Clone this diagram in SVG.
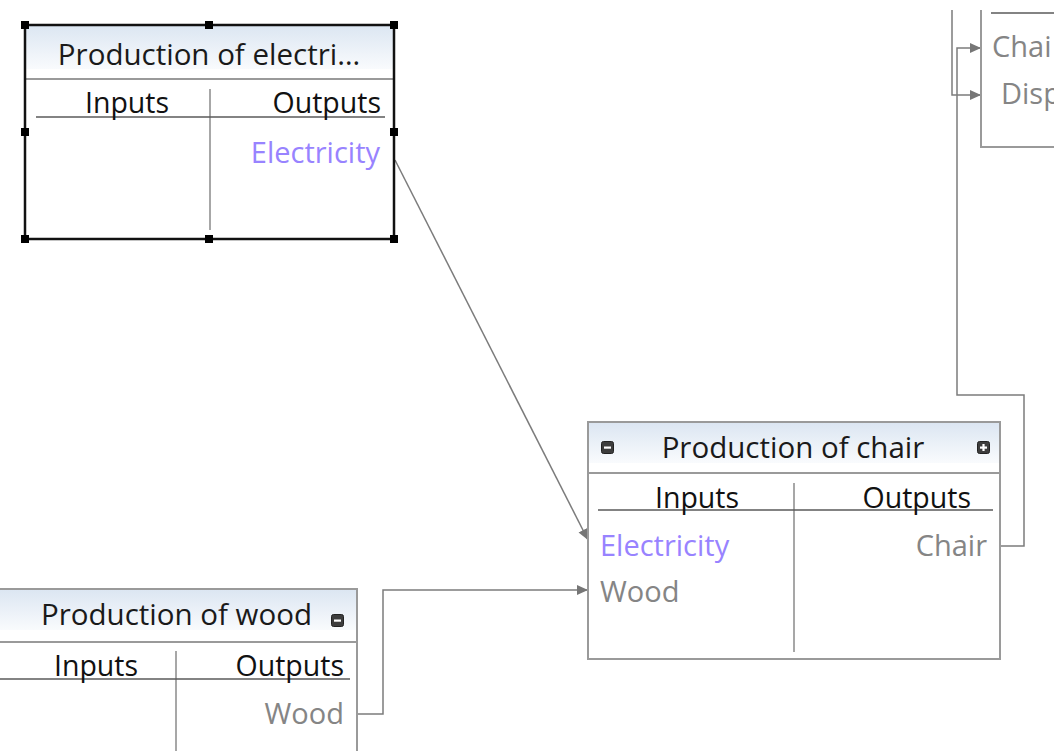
<svg xmlns="http://www.w3.org/2000/svg" width="1054" height="751" viewBox="0 0 1054 751">
<defs>
<linearGradient id="hdr" x1="0" y1="0" x2="0" y2="1">
<stop offset="0" stop-color="#dce6f2"/>
<stop offset="1" stop-color="#f9fbfd"/>
</linearGradient>
<marker id="arr" markerUnits="userSpaceOnUse" markerWidth="13" markerHeight="12" refX="11" refY="6" orient="auto">
<path d="M0,1 L11,6 L0,11 z" fill="#767676"/>
</marker>
</defs>
<style>
text{font-family:"Open Sans","Noto Sans","DejaVu Sans",sans-serif;font-size:29px}
.title{fill:#1a1a1a;text-anchor:middle;font-size:29.5px}
.col{fill:#111111;font-size:28.5px}
.mid{text-anchor:middle}
.end{text-anchor:end}
.purple{fill:#9883ff}
.grey{fill:#858585}
.box{fill:#ffffff;stroke:#9a9a9a;stroke-width:2}
.sep{stroke:#9a9a9a;stroke-width:2}
.div{stroke:#8a8a8a;stroke-width:1.5}
.ul{stroke:#5a5a5a;stroke-width:1.5}
.conn{fill:none;stroke:#7c7c7c;stroke-width:1.5}
.icon{fill:#3d3d3d;stroke:#222;stroke-width:1}
.handle{fill:#000}
</style>
<rect width="1054" height="751" fill="#ffffff"/>

<g id="connectors">
<path class="conn" d="M395,160 L588,540" marker-end="url(#arr)"/>
<path class="conn" d="M357,714 H383 V590 H588" marker-end="url(#arr)"/>
<path class="conn" d="M1000,546 H1024 V395 H957 V48 H981" marker-end="url(#arr)"/>
<path class="conn" d="M952,10 V95 H981" marker-end="url(#arr)"/>
</g>

<g id="node-electricity">
<rect x="25" y="25" width="369" height="214" fill="#ffffff"/>
<rect x="26" y="26" width="367" height="43" fill="url(#hdr)"/>
<line class="sep" x1="26" y1="79" x2="393" y2="79"/>
<line class="div" x1="210" y1="89" x2="210" y2="230"/>
<line class="ul" x1="36" y1="117" x2="385" y2="117"/>
<rect x="25" y="25" width="369" height="214" fill="none" stroke="#111" stroke-width="2.5"/>
<rect class="handle" x="21" y="21" width="8" height="8"/>
<rect class="handle" x="205" y="21" width="8" height="8"/>
<rect class="handle" x="390" y="21" width="8" height="8"/>
<rect class="handle" x="21" y="128" width="8" height="8"/>
<rect class="handle" x="390" y="128" width="8" height="8"/>
<rect class="handle" x="21" y="235" width="8" height="8"/>
<rect class="handle" x="205" y="235" width="8" height="8"/>
<rect class="handle" x="390" y="235" width="8" height="8"/>
<text class="title" x="209" y="65">Production of electri…</text>
<text class="col mid" x="127" y="113">Inputs</text>
<text class="col end" x="381" y="113">Outputs</text>
<text class="end purple" x="380" y="163">Electricity</text>
</g>

<g id="node-chair">
<rect class="box" x="588" y="422" width="412" height="237"/>
<rect x="589" y="423" width="410" height="40" fill="url(#hdr)"/>
<line class="sep" x1="588" y1="473" x2="1000" y2="473"/>
<line class="div" x1="794" y1="483" x2="794" y2="652"/>
<line class="ul" x1="598" y1="510" x2="993" y2="510"/>
<rect class="icon" x="601.5" y="441.5" width="12" height="12" rx="2"/>
<rect x="604" y="446.5" width="7" height="2.2" fill="#fff"/>
<rect class="icon" x="977.5" y="441.5" width="12" height="12" rx="2"/>
<rect x="980" y="446.5" width="7" height="2.2" fill="#fff"/>
<rect x="982.4" y="444" width="2.2" height="7" fill="#fff"/>
<text class="title" x="793" y="458">Production of chair</text>
<text class="col mid" x="697" y="508">Inputs</text>
<text class="col end" x="971" y="508">Outputs</text>
<text class="purple" x="600" y="556">Electricity</text>
<text class="grey" x="600" y="602">Wood</text>
<text class="grey end" x="987" y="556">Chair</text>
</g>

<g id="node-wood">
<rect class="box" x="-4" y="589" width="361" height="200"/>
<rect x="-3" y="590" width="359" height="40" fill="url(#hdr)"/>
<line class="sep" x1="-3" y1="642" x2="357" y2="642"/>
<line class="div" x1="176" y1="651" x2="176" y2="760"/>
<line class="ul" x1="0" y1="679" x2="350" y2="679"/>
<rect class="icon" x="331.5" y="614.5" width="12" height="12" rx="2"/>
<rect x="334" y="619.5" width="7" height="2.2" fill="#fff"/>
<text class="title end" x="312" y="625">Production of wood</text>
<text class="col mid" x="96" y="676">Inputs</text>
<text class="col end" x="344" y="676">Outputs</text>
<text class="grey end" x="344" y="724">Wood</text>
</g>

<g id="node-topright">
<path d="M981,10 V147 H1060" fill="none" stroke="#9a9a9a" stroke-width="2"/>
<line class="ul" x1="991" y1="13" x2="1060" y2="13" stroke="#8a8a8a"/>
<text class="grey" x="992" y="57">Chai</text>
<text class="grey" x="1001" y="104">Disp</text>
</g>
</svg>
